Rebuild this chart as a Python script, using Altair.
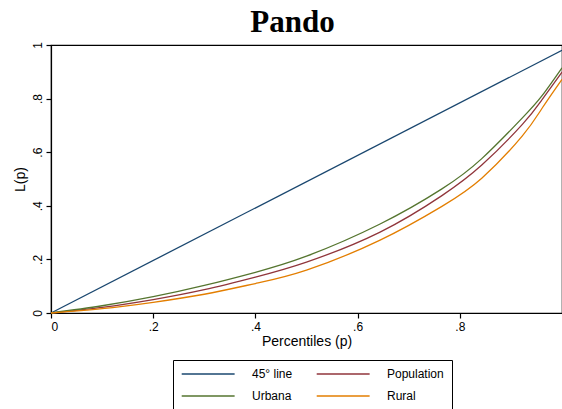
import altair as alt
import pandas as pd

# legend order: Vega fills the 2-column legend column by column
series_names = ["45° line", "Urbana", "Population", "Rural"]
series_colors = ["#1a476f", "#55752f", "#90353b", "#e37e00"]

p_diag = [0.0, 1.0]
L_diag = [0.0, 0.98]

p_grid = [0.0, 0.1, 0.2, 0.3, 0.4, 0.5, 0.644, 0.765, 0.843, 0.922, 0.961, 1.0]
L_urbana = [0.0, 0.027, 0.061, 0.103, 0.152, 0.212, 0.332, 0.463, 0.576, 0.727, 0.811, 0.915]
L_population = [0.0, 0.021, 0.050, 0.087, 0.134, 0.190, 0.302, 0.438, 0.552, 0.703, 0.796, 0.899]
L_rural = [0.0, 0.016, 0.040, 0.070, 0.110, 0.160, 0.272, 0.398, 0.503, 0.660, 0.764, 0.872]

x_ticks = [0, 0.2, 0.4, 0.6, 0.8]
y_ticks = [0, 0.2, 0.4, 0.6, 0.8, 1.0]

rows = []
for p, L in zip(p_diag, L_diag):
    rows.append({"series": "45° line", "p": p, "L": L})
for name, vals in [("Population", L_population), ("Urbana", L_urbana), ("Rural", L_rural)]:
    for p, L in zip(p_grid, vals):
        rows.append({"series": name, "p": p, "L": L})
df = pd.DataFrame(rows)

label_expr = "datum.value < 0.01 ? '0' : (datum.value > 0.99 ? '1' : replace(format(datum.value, '.1f'), '0.', '.'))"

axis_common = dict(
    grid=False, domainColor="black", domainWidth=1.2, tickColor="black", tickSize=5,
    tickWidth=1.2, labelFont="Liberation Sans", labelFontSize=12, labelColor="black",
    titleFont="Liberation Sans", titleFontSize=14, titleFontWeight="normal", titleColor="black",
)

chart = alt.Chart(df).mark_line(strokeWidth=1.3, interpolate="natural").encode(
    x=alt.X("p:Q", scale=alt.Scale(domain=[0, 1], nice=False),
            axis=alt.Axis(values=x_ticks, labelExpr=label_expr, title="Percentiles (p)",
                          labelPadding=3, titlePadding=2, **axis_common)),
    y=alt.Y("L:Q", scale=alt.Scale(domain=[0, 1], nice=False),
            axis=alt.Axis(values=y_ticks, labelExpr=label_expr, title="L(p)",
                          labelAngle=270, labelAlign="center",
                          labelBaseline="bottom", labelPadding=2, titlePadding=4, **axis_common)),
    color=alt.Color("series:N",
                    scale=alt.Scale(domain=series_names, range=series_colors),
                    legend=alt.Legend(title=None, orient="none", legendX=122, legendY=315,
                                      columns=2, symbolType="M-1,0H9", symbolSize=112,
                                      symbolStrokeWidth=1.3, labelFontSize=12,
                                      labelFont="Liberation Sans", labelColor="black",
                                      labelOffset=59, columnPadding=21, rowPadding=10,
                                      padding=8, strokeColor="black", fillColor="white")),
    order=alt.Order("p:Q"),
).properties(
    width=511, height=268,
    background="white",
    title=alt.TitleParams("Pando", font="Liberation Serif", fontWeight="bold", fontSize=31,
                          color="black", anchor="middle", dx=-14, offset=3),
    autosize=alt.AutoSizeParams(type="none"),
    padding={"left": 51, "top": 45, "right": 0, "bottom": 96},
).configure_view(
    stroke="black", strokeWidth=1.2
)

chart.save("out.html", embed_options={"renderer": "svg", "actions": False})
